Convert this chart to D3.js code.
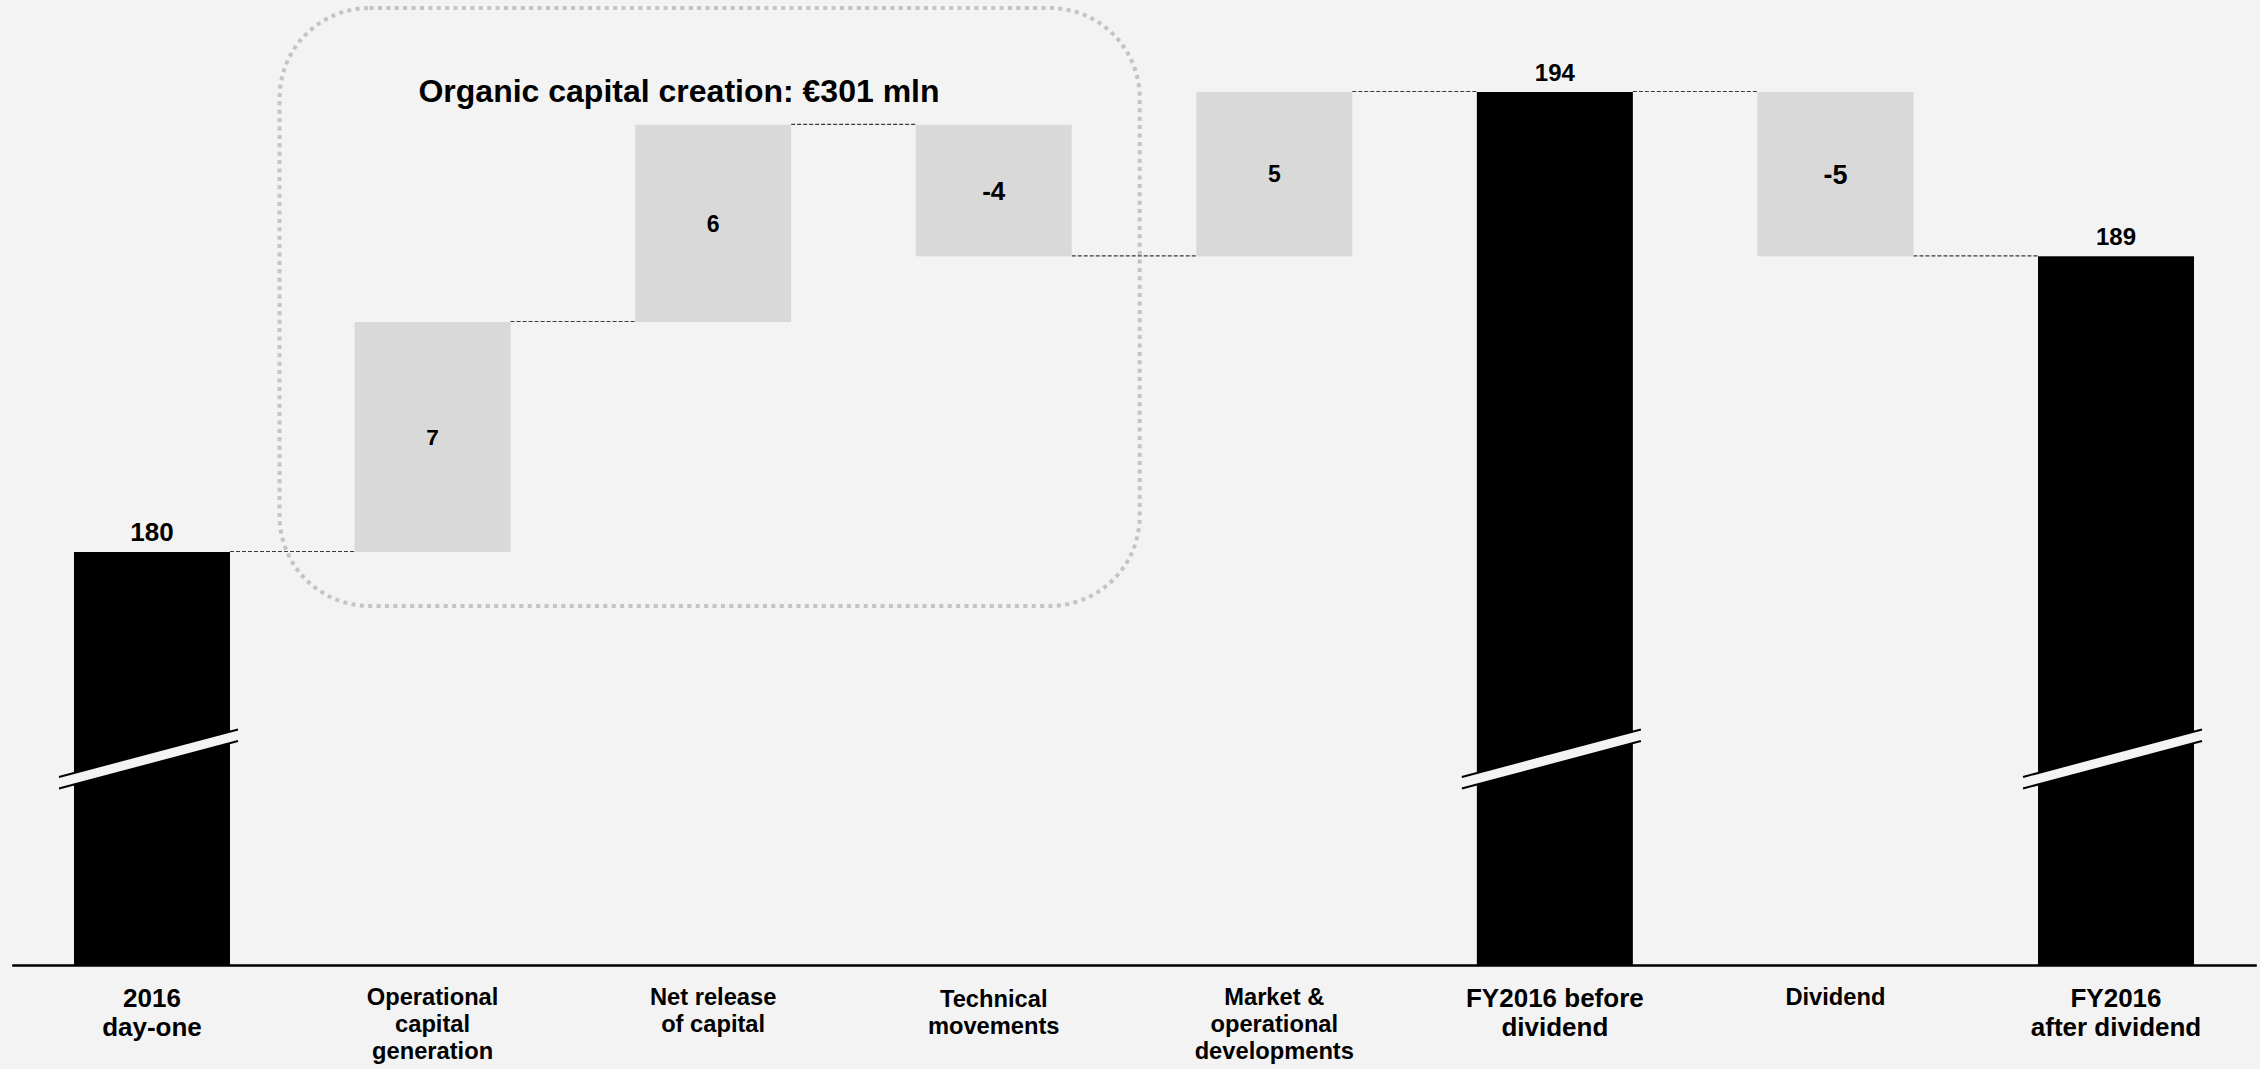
<!DOCTYPE html>
<html>
<head>
<meta charset="utf-8">
<script src="https://cdn.jsdelivr.net/npm/d3@7"></script>
<style>
  html, body { margin: 0; padding: 0; background: #f3f3f3; }
  svg { display: block; }
  text { font-family: "Liberation Sans", Arial, sans-serif; font-weight: bold; fill: #000; }
</style>
</head>
<body>
<svg id="chart" width="2260" height="1069"></svg>
<script>
// ---------- data ----------
const categories = [
  ["2016", "day-one"],
  ["Operational", "capital", "generation"],
  ["Net release", "of capital"],
  ["Technical", "movements"],
  ["Market &", "operational", "developments"],
  ["FY2016 before", "dividend"],
  ["Dividend"],
  ["FY2016", "after dividend"]
];
const values = [180, 7, 6, -4, 5, 194, -5, 189];
const kinds = ["total", "delta", "delta", "delta", "delta", "total", "delta", "total"];
const titleText = "Organic capital creation: €301 mln";

// ---------- style config ----------
const labelSizes = [26, 22.5, 23, 26, 23, 24, 27, 24];
const catSizes = [26, 23.7, 23.7, 23.7, 23.7, 26, 23.7, 26];
const bg = "#f3f3f3";
const deltaColor = "#d9d9d9";
const totalColor = "#000000";

const W = 2260, H = 1069;
const svg = d3.select("#chart");
svg.append("rect").attr("width", W).attr("height", H).attr("fill", bg);

const baselineY = 965;
const axisMin = 167.43;   // broken axis: value sitting on the baseline
const breakValue = 173.7; // where the break marks are drawn

const x = d3.scaleBand()
  .domain(d3.range(categories.length))
  .range([11.7, 2256.3])
  .paddingInner(0.444)
  .paddingOuter(0.222);

const y = d3.scaleLinear().domain([axisMin, 194]).range([baselineY, 92]);

// compute waterfall geometry
let running = 0;
const bars = values.map((v, i) => {
  let lo, hi, end;
  if (kinds[i] === "total") {
    lo = axisMin; hi = v; end = v;
  } else {
    const start = running;
    end = running + v;
    lo = Math.min(start, end); hi = Math.max(start, end);
  }
  running = end;
  return { i, v, lo, hi, end, kind: kinds[i] };
});

const bw = x.bandwidth();

// rounded dotted frame around the organic capital creation steps
const frameX0 = x(1) - 75, frameX1 = x(3) + bw + 68;
const frameY0 = 8, frameY1 = y(180) + 54;
svg.append("rect")
  .attr("x", frameX0).attr("y", frameY0)
  .attr("width", frameX1 - frameX0).attr("height", frameY1 - frameY0)
  .attr("rx", 90).attr("ry", 90)
  .attr("fill", "none")
  .attr("stroke", "#c4c4c4")
  .attr("stroke-width", 4)
  .attr("stroke-dasharray", "4,4.4");

// title
svg.append("text")
  .attr("x", 679).attr("y", 102)
  .attr("text-anchor", "middle")
  .attr("font-size", 32)
  .text(titleText);

// connectors
const conn = svg.append("g");
for (let i = 0; i < bars.length - 1; i++) {
  const lvl = bars[i].end;
  conn.append("line")
    .attr("x1", x(i) + bw).attr("x2", x(i + 1))
    .attr("y1", y(lvl) - 0.5).attr("y2", y(lvl) - 0.5)
    .attr("stroke", "#3a3a3a")
    .attr("stroke-width", 1.2)
    .attr("stroke-dasharray", "4,2");
}

// bars
svg.append("g").selectAll("rect").data(bars).join("rect")
  .attr("x", d => x(d.i))
  .attr("width", bw)
  .attr("y", d => y(d.hi))
  .attr("height", d => y(d.lo) - y(d.hi))
  .attr("fill", d => d.kind === "total" ? totalColor : deltaColor);

// break marks on total bars
const brk = svg.append("g");
const by = y(breakValue);
bars.filter(d => d.kind === "total").forEach(d => {
  const x1 = x(d.i) - 15, x2 = x(d.i) + bw + 8;
  const rise = 23.75, gap = 11.5;
  const yL = by + rise - gap / 2, yR = by - rise - gap / 2;
  brk.append("polygon")
    .attr("points", [[x1, yL], [x2, yR], [x2, yR + gap], [x1, yL + gap]].map(p => p.join(",")).join(" "))
    .attr("fill", bg);
  [0, gap].forEach(o => {
    brk.append("line")
      .attr("x1", x1).attr("y1", yL + o)
      .attr("x2", x2).attr("y2", yR + o)
      .attr("stroke", "#000").attr("stroke-width", 2);
  });
});

// value labels
svg.append("g").selectAll("text").data(bars).join("text")
  .attr("text-anchor", "middle")
  .attr("x", d => x(d.i) + bw / 2)
  .attr("y", d => d.kind === "total" ? y(d.hi) - 11 : (y(d.hi) + y(d.lo)) / 2)
  .attr("dy", d => d.kind === "total" ? 0 : "0.36em")
  .attr("font-size", d => labelSizes[d.i])
  .text(d => String(d.v));

// x axis (baseline)
const axis = svg.append("g")
  .attr("transform", `translate(0,${baselineY})`)
  .call(d3.axisBottom(x).tickSize(0).tickSizeOuter(0).tickFormat(""));
axis.select(".domain").attr("stroke", "#000").attr("stroke-width", 2.5);
axis.selectAll(".tick text").remove();

// category labels
const catG = svg.append("g");
categories.forEach((lines, i) => {
  const t = catG.append("text")
    .attr("text-anchor", "middle")
    .attr("x", x(i) + bw / 2)
    .attr("y", kinds[i] === "total" || i === 3 ? 1007 : 1005)
    .attr("font-size", catSizes[i]);
  lines.forEach((ln, k) => {
    t.append("tspan")
      .attr("x", x(i) + bw / 2)
      .attr("dy", k === 0 ? 0 : (kinds[i] === "total" ? 29 : 27))
      .text(ln);
  });
});
</script>
</body>
</html>
